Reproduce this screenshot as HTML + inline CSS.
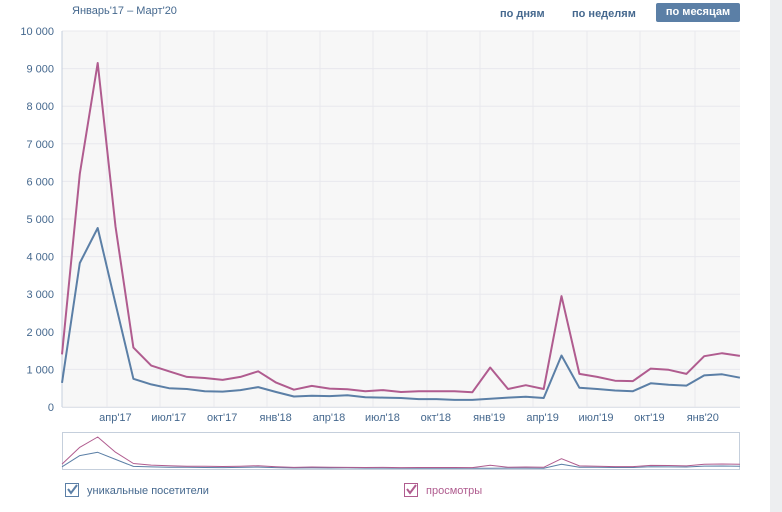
<!DOCTYPE html><html><head><meta charset="utf-8"><style>
body{margin:0;width:782px;height:512px;background:#fff;font-family:"Liberation Sans",sans-serif;overflow:hidden;position:relative}
.t{position:absolute;font-size:11px;color:#45688e}
</style></head><body>
<div style="position:absolute;left:770px;top:0;width:12px;height:512px;background:#edeef0"></div>
<div class="t" style="left:72px;top:5px;font-size:11px;color:#45688e">Январь'17 – Март'20</div>
<div class="t" style="left:500px;top:8px;font-weight:bold;font-size:11px;color:#45688e">по дням</div>
<div class="t" style="left:572px;top:8px;font-weight:bold;font-size:11px;color:#45688e">по неделям</div>
<div style="position:absolute;left:656px;top:3px;width:84px;height:19px;background:#5b7fa6;border-radius:2px;color:#fff;font-weight:bold;font-size:11px;text-align:center;line-height:19px">по месяцам</div>
<svg id="s" width="782" height="512" style="position:absolute;left:0;top:0"></svg>
<script>
var B=[640,3830,4760,2750,750,600,500,480,420,410,450,530,400,280,300,290,310,260,250,240,210,210,190,190,220,250,270,240,1370,510,480,440,420,630,590,570,840,870,780];
var P=[1400,6200,9150,4800,1580,1100,950,800,770,720,800,950,650,460,560,490,470,420,450,400,420,420,420,390,1050,480,580,480,2950,880,800,700,690,1020,990,880,1350,1430,1360];
var s='<rect x="62" y="31" width="678" height="376" fill="#f7f7f7"/>';
for(var k=0;k<=10;k++){var y=407-k*37.6;s+='<line x1="62" x2="740" y1="'+y+'" y2="'+y+'" stroke="#e8e8ee"/>';
s+='<text x="54" y="'+(y+4)+'" text-anchor="end" font-size="11" fill="#45688e">'+(k==0?'0':k+' 000')+'</text>';}
[107,160,214,267,320,373,427,480,533,587,640,695].forEach(function(x){s+='<line x1="'+x+'" x2="'+x+'" y1="31" y2="407" stroke="#e8e8ee"/>';});
s+='<line x1="62" x2="62" y1="31" y2="407" stroke="#c5cfdc"/><line x1="62" x2="740" y1="407.5" y2="407.5" stroke="#dfe3ea"/>';
var L=["апр'17","июл'17","окт'17","янв'18","апр'18","июл'18","окт'18","янв'19","апр'19","июл'19","окт'19","янв'20"];
for(var i=0;i<12;i++){var x=62+(3+3*i)*17.8;s+='<text x="'+x+'" y="421" text-anchor="middle" font-size="11" fill="#45688e">'+L[i]+'</text>';}
function pl(a,c,w,y0,sc){var p=a.map(function(v,i){return (62+i*17.84).toFixed(1)+','+(y0-v*sc).toFixed(1)}).join(' ');return '<polyline points="'+p+'" fill="none" stroke="'+c+'" stroke-width="'+w+'" stroke-linejoin="round"/>';}
s+=pl(B,'#5b7fa6',2,407,0.0376)+pl(P,'#b05c8f',2,407,0.0376);
s+='<rect x="62.5" y="432.5" width="677" height="37" fill="#fff" stroke="#c5cfdc"/>';
s+=pl(B,'#5b7fa6',1,469,0.0035)+pl(P,'#b05c8f',1,469,0.0035);
s+='<rect x="65.5" y="483.5" width="13" height="13" fill="#fff" stroke="#5b7fa6"/><path d="M68 489 l3 4 l6 -8" stroke="#5b7fa6" stroke-width="2" fill="none"/>';
s+='<text x="87" y="494" font-size="11" fill="#45688e">уникальные посетители</text>';
s+='<rect x="404.5" y="483.5" width="13" height="13" fill="#fff" stroke="#b05c8f"/><path d="M407 489 l3 4 l6 -8" stroke="#b05c8f" stroke-width="2" fill="none"/>';
s+='<text x="426" y="494" font-size="11" fill="#b05c8f">просмотры</text>';
document.getElementById('s').innerHTML=s;
</script></body></html>
